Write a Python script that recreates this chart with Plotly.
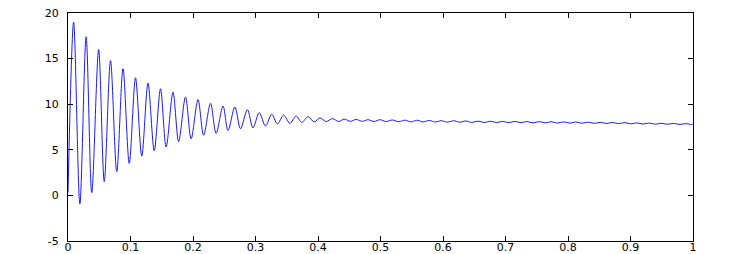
import plotly.graph_objects as go

# start point
start_t = [0.0]
start_v = [0.3]

# oscillation peaks (time in s, value)
peak_t = [0.009, 0.029, 0.049, 0.068, 0.088, 0.108, 0.128, 0.148, 0.168, 0.188,
          0.208, 0.228, 0.248, 0.267, 0.287, 0.306, 0.326, 0.345, 0.365, 0.384,
          0.403, 0.423, 0.442, 0.461, 0.480,
          0.499, 0.519, 0.539, 0.558, 0.578, 0.597, 0.617, 0.636, 0.656, 0.676,
          0.695, 0.715, 0.734, 0.754, 0.773, 0.793, 0.812, 0.832, 0.852, 0.871,
          0.891, 0.910, 0.930, 0.949, 0.969, 0.988]
peak_v = [19.0, 17.4, 16.0, 14.8, 13.9, 12.9, 12.3, 11.7, 11.3, 10.8,
          10.5, 10.1, 9.8, 9.7, 9.4, 9.07, 8.9, 8.8, 8.7, 8.63,
          8.5, 8.42, 8.36, 8.33, 8.30,
          8.30, 8.27, 8.25, 8.24, 8.22, 8.20, 8.19, 8.17, 8.15, 8.14,
          8.12, 8.12, 8.10, 8.09, 8.08, 8.06, 8.05, 8.03, 8.01, 8.00,
          7.98, 7.95, 7.93, 7.91, 7.89, 7.87]

# oscillation troughs
trough_t = [0.019, 0.038, 0.058, 0.078, 0.098, 0.118, 0.138, 0.157, 0.177, 0.197,
            0.217, 0.237, 0.256, 0.276, 0.296, 0.316, 0.335, 0.355, 0.374, 0.394,
            0.413, 0.433, 0.452, 0.471, 0.490,
            0.509, 0.529, 0.549, 0.568, 0.588, 0.607, 0.627, 0.646, 0.666, 0.686,
            0.705, 0.725, 0.744, 0.764, 0.783, 0.803, 0.822, 0.842, 0.862, 0.881,
            0.901, 0.920, 0.940, 0.959, 0.979, 0.998]
trough_v = [-0.95, 0.3, 1.5, 2.6, 3.5, 4.3, 4.9, 5.3, 5.9, 6.2,
            6.6, 6.8, 7.1, 7.3, 7.4, 7.6, 7.83, 7.9, 8.0, 8.05,
            8.1, 8.1, 8.12, 8.12, 8.10,
            8.10, 8.08, 8.06, 8.06, 8.04, 8.03, 8.02, 8.00, 7.99, 7.98,
            7.97, 7.97, 7.95, 7.95, 7.93, 7.92, 7.91, 7.90, 7.88, 7.87,
            7.85, 7.83, 7.81, 7.80, 7.78, 7.77]

end_t = [1.0]
end_v = [7.8]

x_ticks = [0, 0.1, 0.2, 0.3, 0.4, 0.5, 0.6, 0.7, 0.8, 0.9, 1]
x_labels = ["0", "0.1", "0.2", "0.3", "0.4", "0.5", "0.6", "0.7", "0.8", "0.9", "1"]
y_ticks = [-5, 0, 5, 10, 15, 20]
y_labels = ["-5", "0", "5", "10", "15", "20"]

pts = sorted(zip(start_t + peak_t + trough_t + end_t,
                 start_v + peak_v + trough_v + end_v))
t = [p[0] for p in pts]
v = [p[1] for p in pts]

fig = go.Figure()
fig.add_trace(go.Scatter(x=t, y=v, mode="lines",
                         line=dict(color="#1a1aff", width=1, shape="spline", smoothing=0.9),
                         hoverinfo="skip", showlegend=False))

axis_common = dict(showgrid=False, zeroline=False, showline=True, linecolor="black",
                   linewidth=1, mirror="allticks", ticks="inside", ticklen=5,
                   tickcolor="black", tickwidth=1, automargin=False,
                   tickfont=dict(family="DejaVu Sans", size=11, color="black"))

fig.update_layout(
    width=753, height=254,
    margin=dict(l=68, r=60, t=13, b=13),
    paper_bgcolor="white", plot_bgcolor="white",
    xaxis=dict(range=[0, 1], tickvals=x_ticks, ticktext=x_labels,
               ticklabelstandoff=-4, **axis_common),
    yaxis=dict(range=[-5, 20], tickvals=y_ticks, ticktext=y_labels,
               ticklabelstandoff=6, **axis_common),
)

fig.write_html("out.html")
